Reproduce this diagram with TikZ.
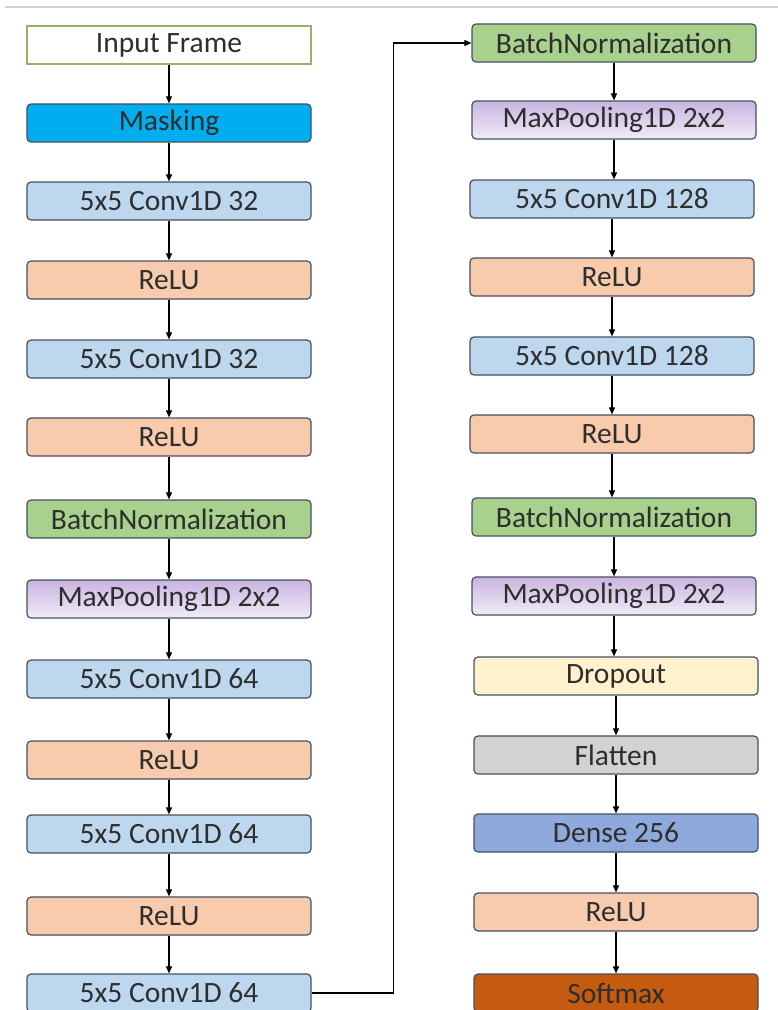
\documentclass[tikz,border=0pt]{standalone}
\usepackage{fontspec}
\setmainfont{Carlito}
\usetikzlibrary{arrows.meta}

\definecolor{edge}{HTML}{46505E}
\definecolor{inedge}{HTML}{93B26A}
\definecolor{maskc}{HTML}{00AEEF}
\definecolor{convc}{HTML}{BDD7EE}
\definecolor{reluc}{HTML}{F8CBAD}
\definecolor{bnc}{HTML}{A9D18E}
\definecolor{pooltop}{HTML}{C9B4E0}
\definecolor{poolbot}{HTML}{F1ECF7}
\definecolor{dropc}{HTML}{FFF2CC}
\definecolor{flatc}{HTML}{D3D2D2}
\definecolor{densec}{HTML}{8EA9DB}
\definecolor{softc}{HTML}{C55A11}

\begin{document}
\begin{tikzpicture}[
  x=1pt, y=-1pt,
  layer/.style={draw=edge, line width=1.2pt, rounded corners=4pt,
    minimum width=284pt, minimum height=38pt, inner sep=0pt,
    font=\fontsize{29.5}{33}\selectfont, text=black!82},
  pool/.style={layer, top color=pooltop, bottom color=poolbot},
  flow/.style={-{Triangle[length=7pt,width=6pt]}, line width=1.1pt},
]

\useasboundingbox (0,0) rectangle (778,1010);
\draw [line width=1.5pt, black!18] (5,7) -- (778,7);

% first column
\node [layer, draw=inedge, rounded corners=0pt, fill=white] (in) at (169,45) {Input Frame};
\node [layer, fill=maskc] (mask) at (169,123) {Masking};
\node [layer, fill=convc] (convA) at (169,201) {5x5 Conv1D 32};
\node [layer, fill=reluc] (reluA) at (169,280) {ReLU};
\node [layer, fill=convc] (convB) at (169,359) {5x5 Conv1D 32};
\node [layer, fill=reluc] (reluB) at (169,437) {ReLU};
\node [layer, fill=bnc] (bnA) at (169,519) {BatchNormalization};
\node [pool] (poolA) at (169,599) {MaxPooling1D 2x2};
\node [layer, fill=convc] (convC) at (169,679) {5x5 Conv1D 64};
\node [layer, fill=reluc] (reluC) at (169,760) {ReLU};
\node [layer, fill=convc] (convD) at (169,834) {5x5 Conv1D 64};
\node [layer, fill=reluc] (reluD) at (169,916) {ReLU};
\node [layer, fill=convc] (convE) at (169,993) {5x5 Conv1D 64};

% second column
\node [layer, fill=bnc] (bnB) at (614,43) {BatchNormalization};
\node [pool] (poolB) at (614,120) {MaxPooling1D 2x2};
\node [layer, fill=convc] (convF) at (612,199) {5x5 Conv1D 128};
\node [layer, fill=reluc] (reluE) at (612,277) {ReLU};
\node [layer, fill=convc] (convG) at (612,356) {5x5 Conv1D 128};
\node [layer, fill=reluc] (reluF) at (612,434) {ReLU};
\node [layer, fill=bnc] (bnC) at (614,517) {BatchNormalization};
\node [pool] (poolC) at (614,596) {MaxPooling1D 2x2};
\node [layer, fill=dropc] (drop) at (616,676) {Dropout};
\node [layer, fill=flatc] (flat) at (616,755) {Flatten};
\node [layer, fill=densec] (dense) at (616,833) {Dense 256};
\node [layer, fill=reluc] (reluG) at (616,912) {ReLU};
\node [layer, fill=softc] (soft) at (616,993) {Softmax};

% arrows down the first column
\foreach \a/\b in {in/mask, mask/convA, convA/reluA, reluA/convB, convB/reluB,
  reluB/bnA, bnA/poolA, poolA/convC, convC/reluC, reluC/convD, convD/reluD,
  reluD/convE}
  \draw [flow] (\a.south) -- (\a.south |- \b.north);

% jump over to the second column
\draw [flow] (convE.east) -- ++(82,0) |- (bnB.west);

% arrows down the second column
\foreach \a/\b in {bnB/poolB, poolB/convF, convF/reluE, reluE/convG, convG/reluF,
  reluF/bnC, bnC/poolC, poolC/drop, drop/flat, flat/dense, dense/reluG,
  reluG/soft}
  \draw [flow] (\a.south) -- (\a.south |- \b.north);

\end{tikzpicture}
\end{document}
